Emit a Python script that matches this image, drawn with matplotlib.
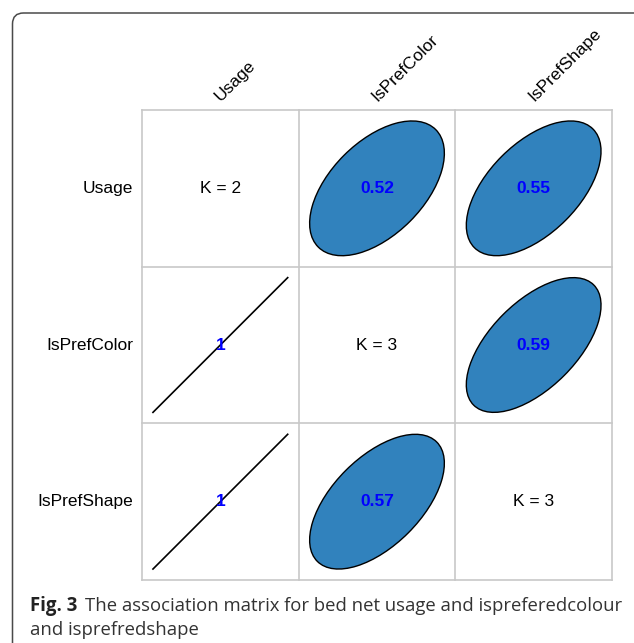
import numpy as np
import matplotlib.pyplot as plt
from matplotlib.patches import Ellipse, FancyBboxPatch

names = ['Usage', 'IsPrefColor', 'IsPrefShape']
n_levels = [2, 3, 3]
assoc = np.array([[np.nan, 0.52, 0.55],
                  [1.00, np.nan, 0.59],
                  [1.00, 0.57, np.nan]])

caption_bold = 'Fig. 3'
caption_1 = 'The association matrix for bed net usage and ispreferedcolour'
caption_2 = 'and isprefredshape'

W, H = 634, 643
fig = plt.figure(figsize=(W / 100, H / 100), dpi=100)

# frame + caption in pixel coordinates
bg = fig.add_axes([0, 0, 1, 1])
bg.set_xlim(0, W)
bg.set_ylim(H, 0)
bg.axis('off')
bg.add_patch(FancyBboxPatch((12.5, 13), 700, 700, boxstyle='round,pad=0,rounding_size=11',
                            fc='white', ec='#4a4a4a', lw=1.1))
bg.text(30, 611, caption_bold, fontsize=13.4, fontweight='bold', family='Open Sans',
        color='#222222', va='baseline')
bg.text(85, 611, caption_1, fontsize=13.3, family='Open Sans', color='#333333', va='baseline')
bg.text(30, 635, caption_2, fontsize=13.3, family='Open Sans', color='#333333', va='baseline')

# matrix grid
x0, x1, y0, y1 = 142, 612, 110, 580
ax = fig.add_axes([x0 / W, 1 - y1 / H, (x1 - x0) / W, (y1 - y0) / H])
ax.set_xlim(0, 3)
ax.set_ylim(0, 3)
ax.axis('off')

grid_kw = dict(color='#c8c8c8', lw=1.2, clip_on=False)
for k in range(4):
    ax.plot([k, k], [0, 3], **grid_kw)
    ax.plot([0, 3], [k, k], **grid_kw)

s = 0.43  # half extent of each ellipse in cell units
font = 'Liberation Sans'
fs = 12.5
for i in range(3):
    yc = 2.5 - i
    ax.text(-0.055, yc, names[i], ha='right', va='center', fontsize=fs, family=font)
    ax.text(i + 0.515, 3.04, names[i], rotation=45, rotation_mode='anchor',
            ha='left', va='bottom', fontsize=fs, family=font)
    for j in range(3):
        xc = j + 0.5
        if i == j:
            ax.text(xc, yc, f'K = {n_levels[i]}', ha='center', va='center',
                    fontsize=fs, family=font)
            continue
        r = assoc[i, j]
        if r >= 0.999:
            ax.plot([xc - s, xc + s], [yc - s, yc + s], color='black', lw=1.2)
            lab = '1'
        else:
            e = Ellipse((xc, yc), 2 * s * np.sqrt(1 + r), 2 * s * np.sqrt(1 - r),
                        angle=45, fc='#3182bd', ec='black', lw=1.0)
            ax.add_patch(e)
            lab = f'{r:.2f}'
        ax.text(xc, yc, lab, ha='center', va='center', fontsize=fs,
                fontweight='bold', color='#0000ff', family=font)

fig.savefig('out.png', dpi=100)
